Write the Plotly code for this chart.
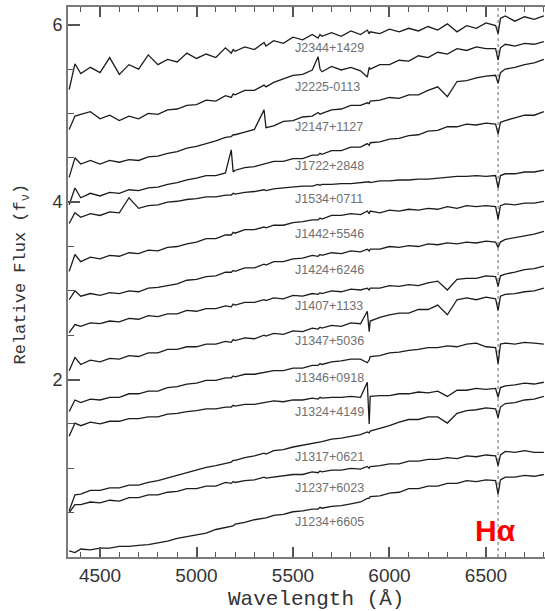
import plotly.graph_objects as go

# ---------------- data ----------------
WAVE = [4340, 4370, 4400, 4450, 4500, 4550, 4600, 4650, 4700, 4750,
        4800, 4850, 4900, 4950, 5000, 5050, 5100, 5150, 5180, 5190,
        5200, 5250, 5300, 5350, 5360, 5400, 5450, 5500, 5550, 5600,
        5630, 5640, 5650, 5700, 5750, 5800, 5850, 5885, 5895, 5900,
        5950, 6000, 6050, 6100, 6150, 6200, 6250, 6300, 6350, 6400,
        6450, 6500, 6550, 6563, 6575, 6600, 6650, 6700, 6750, 6800]

J2344 = [5.27, 5.56, 5.45, 5.52, 5.46, 5.63, 5.44, 5.55, 5.50, 5.66,
         5.55, 5.61, 5.58, 5.68, 5.62, 5.67, 5.63, 5.74, 5.68, 5.72,
         5.70, 5.75, 5.72, 5.80, 5.76, 5.82, 5.79, 5.86, 5.83, 5.89,
         5.85, 5.89, 5.87, 5.91, 5.87, 5.93, 5.89, 5.94, 5.90, 5.92,
         5.90, 5.95, 5.92, 5.96, 5.93, 5.98, 5.94, 6.01, 5.92, 5.99,
         5.96, 6.02, 5.99, 5.90, 6.07, 6.10, 6.04, 6.09, 6.06, 6.10]
J2225 = [4.82, 4.97, 4.99, 5.02, 4.94, 4.98, 4.92, 4.97, 4.94, 5.00,
         4.99, 5.04, 5.05, 5.09, 5.10, 5.15, 5.14, 5.20, 5.18, 5.22,
         5.21, 5.26, 5.26, 5.32, 5.30, 5.35, 5.39, 5.43, 5.44, 5.49,
         5.64, 5.50, 5.47, 5.53, 5.49, 5.52, 5.48, 5.41, 5.52, 5.50,
         5.55, 5.55, 5.60, 5.59, 5.65, 5.63, 5.69, 5.67, 5.73, 5.71,
         5.75, 5.73, 5.73, 5.60, 5.74, 5.78, 5.76, 5.79, 5.78, 5.81]
J2147 = [4.28, 4.50, 4.43, 4.47, 4.43, 4.47, 4.45, 4.48, 4.47, 4.51,
         4.52, 4.55, 4.57, 4.61, 4.63, 4.66, 4.69, 4.73, 4.74, 4.76,
         4.76, 4.79, 4.82, 5.04, 4.84, 4.86, 4.91, 4.92, 4.96, 4.97,
         5.01, 4.99, 5.00, 5.04, 5.05, 5.09, 5.09, 5.12, 5.11, 5.14,
         5.15, 5.18, 5.17, 5.21, 5.21, 5.26, 5.30, 5.19, 5.36, 5.37,
         5.40, 5.42, 5.43, 5.34, 5.46, 5.50, 5.52, 5.55, 5.57, 5.61]
J1722 = [3.97, 4.16, 4.05, 4.10, 4.07, 4.11, 4.10, 4.14, 4.13, 4.16,
         4.17, 4.20, 4.22, 4.25, 4.27, 4.30, 4.30, 4.33, 4.59, 4.34,
         4.36, 4.39, 4.40, 4.43, 4.43, 4.46, 4.46, 4.49, 4.49, 4.53,
         4.53, 4.55, 4.54, 4.58, 4.58, 4.62, 4.62, 4.66, 4.64, 4.67,
         4.68, 4.71, 4.72, 4.75, 4.76, 4.80, 4.81, 4.85, 4.85, 4.88,
         4.87, 4.89, 4.88, 4.77, 4.90, 4.92, 4.95, 4.98, 4.98, 5.02]
J1534 = [3.76, 3.88, 3.83, 3.87, 3.85, 3.89, 3.88, 4.05, 3.93, 3.96,
         3.97, 4.00, 4.01, 4.03, 4.04, 4.06, 4.06, 4.08, 4.08, 4.10,
         4.09, 4.11, 4.12, 4.14, 4.13, 4.15, 4.16, 4.17, 4.18, 4.18,
         4.20, 4.19, 4.20, 4.20, 4.21, 4.21, 4.22, 4.22, 4.23, 4.22,
         4.24, 4.24, 4.25, 4.25, 4.26, 4.26, 4.27, 4.28, 4.29, 4.29,
         4.30, 4.29, 4.30, 4.16, 4.30, 4.32, 4.32, 4.34, 4.34, 4.36]
J1442 = [3.22, 3.41, 3.33, 3.38, 3.36, 3.40, 3.39, 3.43, 3.42, 3.46,
         3.45, 3.49, 3.50, 3.53, 3.55, 3.59, 3.59, 3.63, 3.63, 3.66,
         3.65, 3.69, 3.69, 3.72, 3.71, 3.74, 3.74, 3.77, 3.78, 3.80,
         3.80, 3.82, 3.81, 3.85, 3.85, 3.87, 3.86, 3.90, 3.87, 3.90,
         3.88, 3.91, 3.90, 3.92, 3.91, 3.93, 3.92, 3.95, 3.93, 3.96,
         3.95, 3.96, 3.95, 3.81, 3.96, 3.98, 3.97, 3.99, 3.99, 4.01]
J1424 = [2.90, 3.00, 2.94, 2.97, 2.95, 2.98, 2.97, 3.00, 2.99, 3.03,
         3.04, 3.06, 3.08, 3.12, 3.13, 3.16, 3.17, 3.21, 3.21, 3.23,
         3.22, 3.26, 3.26, 3.30, 3.29, 3.33, 3.33, 3.36, 3.37, 3.40,
         3.39, 3.41, 3.40, 3.43, 3.42, 3.45, 3.44, 3.47, 3.45, 3.47,
         3.47, 3.50, 3.49, 3.51, 3.50, 3.53, 3.52, 3.54, 3.53, 3.55,
         3.54, 3.56, 3.55, 3.49, 3.55, 3.58, 3.60, 3.62, 3.64, 3.67]
J1407 = [2.53, 2.62, 2.60, 2.64, 2.63, 2.66, 2.65, 2.69, 2.68, 2.72,
         2.71, 2.74, 2.74, 2.78, 2.77, 2.80, 2.80, 2.83, 2.82, 2.85,
         2.84, 2.87, 2.87, 2.90, 2.89, 2.92, 2.91, 2.95, 2.94, 2.97,
         2.96, 2.98, 2.97, 3.00, 2.99, 3.02, 3.01, 3.03, 3.01, 3.03,
         3.03, 3.06, 3.05, 3.07, 3.06, 3.09, 3.11, 3.01, 3.13, 3.14,
         3.14, 3.17, 3.16, 3.05, 3.17, 3.19, 3.21, 3.24, 3.25, 3.28]
J1347 = [2.10, 2.25, 2.17, 2.22, 2.20, 2.24, 2.23, 2.27, 2.26, 2.30,
         2.30, 2.34, 2.34, 2.37, 2.37, 2.40, 2.40, 2.43, 2.42, 2.45,
         2.44, 2.47, 2.46, 2.50, 2.49, 2.52, 2.51, 2.55, 2.54, 2.58,
         2.57, 2.59, 2.58, 2.61, 2.60, 2.64, 2.63, 2.77, 2.54, 2.66,
         2.70, 2.73, 2.75, 2.75, 2.79, 2.79, 2.84, 2.73, 2.90, 2.92,
         2.90, 2.93, 2.91, 2.78, 2.94, 2.96, 2.97, 2.99, 3.00, 3.03]
J1346 = [1.64, 1.77, 1.74, 1.78, 1.77, 1.80, 1.80, 1.84, 1.84, 1.87,
         1.87, 1.91, 1.92, 1.95, 1.96, 1.99, 1.99, 2.02, 2.02, 2.04,
         2.03, 2.06, 2.06, 2.08, 2.08, 2.10, 2.10, 2.13, 2.13, 2.16,
         2.16, 2.18, 2.17, 2.20, 2.21, 2.23, 2.23, 2.19, 2.22, 2.26,
         2.27, 2.30, 2.31, 2.33, 2.34, 2.36, 2.36, 2.38, 2.37, 2.40,
         2.41, 2.37, 2.36, 2.18, 2.40, 2.41, 2.40, 2.42, 2.41, 2.40]
J1324 = [1.36, 1.51, 1.48, 1.52, 1.50, 1.53, 1.53, 1.56, 1.56, 1.58,
         1.58, 1.61, 1.62, 1.64, 1.65, 1.67, 1.67, 1.69, 1.69, 1.71,
         1.70, 1.72, 1.72, 1.74, 1.74, 1.76, 1.75, 1.77, 1.77, 1.79,
         1.78, 1.80, 1.79, 1.80, 1.80, 1.81, 1.80, 1.97, 1.50, 1.81,
         1.82, 1.82, 1.84, 1.84, 1.86, 1.85, 1.87, 1.81, 1.88, 1.88,
         1.90, 1.89, 1.90, 1.80, 1.91, 1.93, 1.94, 1.96, 1.95, 1.97]
J1317 = [0.52, 0.70, 0.71, 0.75, 0.75, 0.78, 0.78, 0.81, 0.81, 0.84,
         0.86, 0.89, 0.92, 0.95, 0.98, 1.01, 1.03, 1.06, 1.07, 1.09,
         1.09, 1.12, 1.14, 1.17, 1.16, 1.20, 1.21, 1.24, 1.26, 1.28,
         1.29, 1.30, 1.30, 1.33, 1.34, 1.36, 1.38, 1.41, 1.40, 1.42,
         1.45, 1.48, 1.52, 1.55, 1.55, 1.58, 1.58, 1.51, 1.62, 1.65,
         1.66, 1.68, 1.67, 1.57, 1.69, 1.73, 1.74, 1.77, 1.78, 1.81]
J1237 = [0.50, 0.59, 0.59, 0.62, 0.61, 0.64, 0.63, 0.67, 0.67, 0.70,
         0.70, 0.73, 0.74, 0.77, 0.77, 0.80, 0.80, 0.84, 0.83, 0.85,
         0.84, 0.86, 0.87, 0.90, 0.89, 0.90, 0.91, 0.93, 0.93, 0.96,
         0.95, 0.97, 0.96, 0.98, 0.98, 1.00, 0.99, 1.02, 1.00, 1.02,
         1.03, 1.05, 1.05, 1.08, 1.08, 1.10, 1.10, 1.12, 1.11, 1.14,
         1.13, 1.15, 1.14, 1.03, 1.15, 1.19, 1.18, 1.20, 1.18, 1.18]
J1234 = [0.07, 0.05, 0.09, 0.08, 0.10, 0.10, 0.12, 0.12, 0.13, 0.14,
         0.16, 0.18, 0.21, 0.23, 0.25, 0.27, 0.31, 0.33, 0.35, 0.35,
         0.37, 0.39, 0.42, 0.44, 0.44, 0.47, 0.48, 0.51, 0.52, 0.54,
         0.54, 0.56, 0.55, 0.57, 0.58, 0.60, 0.62, 0.66, 0.66, 0.68,
         0.69, 0.72, 0.73, 0.77, 0.77, 0.80, 0.80, 0.83, 0.83, 0.86,
         0.85, 0.87, 0.86, 0.71, 0.87, 0.90, 0.90, 0.92, 0.91, 0.93]

NAMES = ["J2344+1429", "J2225-0113", "J2147+1127", "J1722+2848",
         "J1534+0711", "J1442+5546", "J1424+6246", "J1407+1133",
         "J1347+5036", "J1346+0918", "J1324+4149", "J1317+0621",
         "J1237+6023", "J1234+6605"]
SERIES = [J2344, J2225, J2147, J1722, J1534, J1442, J1424, J1407,
          J1347, J1346, J1324, J1317, J1237, J1234]
LABEL_Y = [5.74, 5.30, 4.85, 4.41, 4.04, 3.64, 3.24, 2.83,
           2.43, 2.02, 1.64, 1.13, 0.78, 0.39]
LABEL_X = 5500
HALPHA = 6563
X_RANGE = [4334, 6806]
Y_RANGE = [0, 6.2]
X_TICKS = [4500, 5000, 5500, 6000, 6500]
Y_TICKS = [2, 4, 6]

# ---------------- figure ----------------
fig = go.Figure()
for name, flux in zip(NAMES, SERIES):
    fig.add_trace(go.Scatter(x=WAVE, y=flux, mode="lines", name=name,
                             line=dict(color="#1c1c1c", width=1.3),
                             showlegend=False, hoverinfo="skip"))

# invisible trace to anchor the top (mirrored) wavelength axis
fig.add_trace(go.Scatter(x=X_RANGE, y=Y_RANGE, mode="markers", xaxis="x2",
                         marker=dict(opacity=0), showlegend=False, hoverinfo="skip"))

for name, ly in zip(NAMES, LABEL_Y):
    fig.add_annotation(x=LABEL_X, y=ly, text=name, showarrow=False,
                       xanchor="left", yanchor="middle",
                       font=dict(family="Liberation Sans", size=12.5, color="#707070"))

fig.add_shape(type="line", x0=HALPHA, x1=HALPHA, y0=Y_RANGE[0], y1=Y_RANGE[1],
              xref="x", yref="y",
              line=dict(color="#8a8a8a", width=1.3, dash="dot"), layer="below")

fig.add_annotation(x=6552, y=0.30, text="<b>Hα</b>", showarrow=False,
                   xanchor="center", yanchor="middle",
                   font=dict(family="Liberation Sans", size=30, color="#ff0000"))

fig.add_annotation(xref="paper", yref="paper", x=0.52, y=-0.078, yanchor="middle",
                   text="Wavelength (Å)", showarrow=False,
                   font=dict(family="Liberation Mono", size=21, color="#333333"))
fig.add_annotation(xref="paper", yref="paper", x=-0.097, y=0.515, xanchor="center",
                   text="Relative Flux (f<sub>ν</sub>)", showarrow=False, textangle=-90,
                   font=dict(family="Liberation Mono", size=17, color="#333333"))

axis_col = "#7a7a7a"
tick_col = "#555555"
xminor = dict(tickmode="linear", tick0=4500, dtick=100, ticks="inside",
              ticklen=5, tickwidth=1.4, tickcolor=tick_col)
fig.update_layout(
    width=545, height=611,
    margin=dict(l=68, r=0, t=7, b=54),
    paper_bgcolor="white", plot_bgcolor="white",
    xaxis=dict(range=X_RANGE, tickvals=X_TICKS, ticktext=[str(v) for v in X_TICKS],
               ticks="inside", ticklen=10, tickwidth=1.6, tickcolor=tick_col,
               showline=True, linecolor=axis_col, linewidth=1.6, mirror=False,
               showgrid=False, zeroline=False, minor=xminor,
               tickfont=dict(family="Liberation Sans", size=19, color="#333333")),
    xaxis2=dict(range=X_RANGE, overlaying="x", side="top", anchor="y",
                tickvals=X_TICKS, showticklabels=False,
                ticks="inside", ticklen=10, tickwidth=1.6, tickcolor=tick_col,
                showline=True, linecolor=axis_col, linewidth=1.6,
                showgrid=False, zeroline=False, minor=xminor),
    yaxis=dict(range=Y_RANGE, tickvals=Y_TICKS, ticktext=[str(v) for v in Y_TICKS],
               ticks="inside", ticklen=12, tickwidth=1.6, tickcolor=tick_col,
               showline=True, linecolor=axis_col, linewidth=1.6, mirror=False,
               showgrid=False, zeroline=False,
               minor=dict(tickmode="linear", tick0=0, dtick=0.5, ticks="inside",
                          ticklen=6, tickwidth=1.4, tickcolor=tick_col),
               tickfont=dict(family="Liberation Sans", size=18, color="#333333")),
)

fig.write_html("out.html")
